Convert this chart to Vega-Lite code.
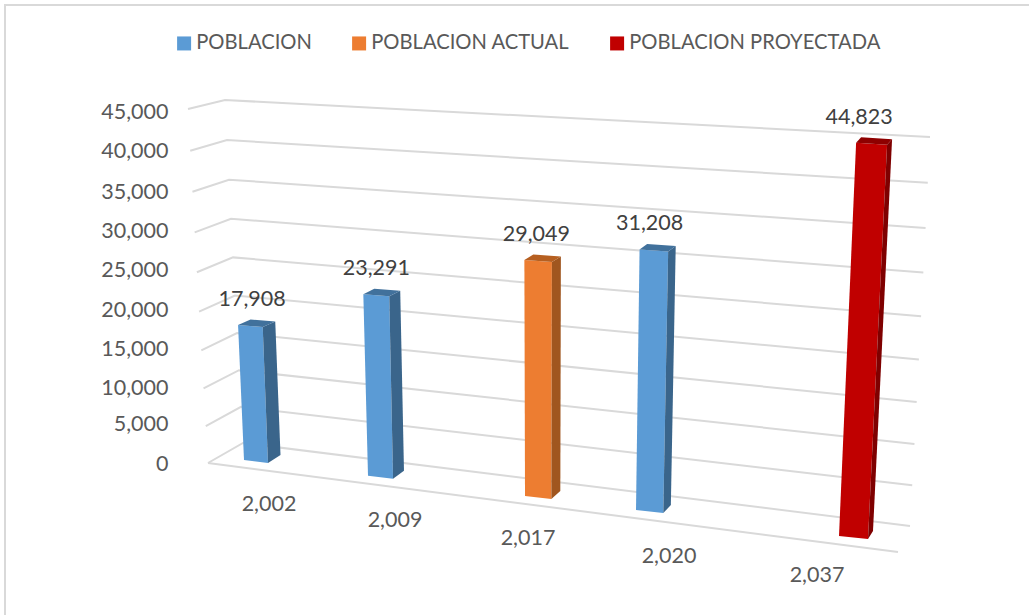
{
"$schema":"https://vega.github.io/schema/vega-lite/v6.json",
"width":1029,"height":615,"padding":0,"autosize":{"type":"none"},"background":"white",
"config":{"view":{"stroke":null},"font":"Lato"},
"datasets":{
"barras":[
{"anio":2002,"poblacion":17908,"serie":"POBLACION"},
{"anio":2009,"poblacion":23291,"serie":"POBLACION"},
{"anio":2017,"poblacion":29049,"serie":"POBLACION ACTUAL"},
{"anio":2020,"poblacion":31208,"serie":"POBLACION"},
{"anio":2037,"poblacion":44823,"serie":"POBLACION PROYECTADA"}],
"ejes":[{"tick":0},{"tick":5000},{"tick":10000},{"tick":15000},{"tick":20000},{"tick":25000},{"tick":30000},{"tick":35000},{"tick":40000},{"tick":45000}]
},
"encoding":{
"x":{"field":"X","type":"quantitative","scale":{"domain":[0,1029],"nice":false,"zero":false},"axis":null},
"y":{"field":"Y","type":"quantitative","scale":{"domain":[-19565,59079],"nice":false,"zero":false},
"axis":{"title":null,"values":[0,5000,10000,15000,20000,25000,30000,35000,40000,45000],"labelExpr":"format(datum.value,',')","grid":false,"domain":false,"ticks":false,"offset":-168,"labelPadding":0,"labelFontSize":21.5,"labelFont":"Lato","labelColor":"#595959",
"labelOffset":{"condition":[{"test":"datum.value>=10000 && datum.value<=35000","value":4.5}],"value":2}}}
},
"layer":[
{"data":{"values":[{"borde":"marco"}]},
"transform":[
{"calculate":"[5,5,1029]","as":"X"},
{"calculate":"[615,5,5]","as":"py"},
{"calculate":"[0,1,2]","as":"k"},
{"flatten":["X","py","k"]},
{"calculate":"(462-datum.py)/0.00782","as":"Y"}],
"mark":{"type":"line","color":"#D9D9D9","strokeWidth":2},
"encoding":{"order":{"field":"k","type":"quantitative"}}},
{"data":{"name":"ejes"},
"transform":[
{"calculate":"datum.tick/45000","as":"f"},
{"calculate":"datum.f*(1-datum.f)","as":"q"},
{"calculate":"[208-20*datum.f,243-18*datum.f,910+20*datum.f]","as":"px"},
{"calculate":"[463-354*datum.f+24*datum.q,443-343*datum.f+20*datum.q,526-389*datum.f+26*datum.q]","as":"py"},
{"calculate":"[0,1,2]","as":"k"},
{"flatten":["px","py","k"]},
{"calculate":"datum.px","as":"X"},
{"calculate":"(462-datum.py)/0.00782","as":"Y"}],
"mark":{"type":"line","color":"#D9D9D9","strokeWidth":2},
"encoding":{"detail":{"field":"tick"},"order":{"field":"k","type":"quantitative"}}},
{"data":{"name":"ejes"},
"transform":[{"filter":"datum.tick==0"},
{"calculate":"[208,898]","as":"px"},
{"calculate":"[463,552]","as":"py"},
{"calculate":"[0,1]","as":"k"},
{"flatten":["px","py","k"]},
{"calculate":"datum.px","as":"X"},
{"calculate":"(462-datum.py)/0.00782","as":"Y"}],
"mark":{"type":"line","color":"#D9D9D9","strokeWidth":2},
"encoding":{"order":{"field":"k","type":"quantitative"}}},
{"data":{"name":"barras"},
"transform":[
{"window":[{"op":"row_number","as":"n"}],"sort":[{"field":"anio","order":"ascending"}]},
{"calculate":"datum.n-1","as":"i"},
{"calculate":"[244,368,525,636,839][datum.i]","as":"xb"},
{"calculate":"460+0.1277*(datum.xb-244)","as":"yb"},
{"calculate":"datum.poblacion*(0.00754+(datum.xb-244)*0.00000207)","as":"h"},
{"calculate":"datum.yb-datum.h","as":"yt"},
{"calculate":"datum.xb+(datum.xb-543)*0.000147*datum.h","as":"xt"},
{"calculate":"24+(datum.xb-244)*0.0084","as":"w"},
{"calculate":"datum.w+datum.h*0.005","as":"wt"},
{"calculate":"12.5-(datum.xb-244)*0.0126","as":"dx"}
],
"layer":[
{"transform":[
{"calculate":"datum.xb+10","as":"X"},
{"calculate":"(462-(datum.yb-30))/0.00782","as":"Y"}],
"mark":{"type":"point","shape":"square","filled":true,"size":1,"opacity":1},
"encoding":{"color":{"field":"serie","type":"nominal",
"scale":{"domain":["POBLACION","POBLACION ACTUAL","POBLACION PROYECTADA"],"range":["#5B9BD5","#ED7D31","#C00000"]},
"legend":{"title":null,"orient":"none","legendX":174,"legendY":33,"direction":"horizontal","symbolType":"square","symbolSize":196,"symbolStrokeWidth":0,"labelFont":"Lato","labelFontSize":20.2,"labelColor":"#595959","labelLimit":400,"columnPadding":37,"labelOffset":2}}}},
{"transform":[
{"calculate":"[datum.xb,datum.xb+datum.w,datum.xt+datum.wt,datum.xt,datum.xb+datum.w,datum.xb+datum.w+datum.dx,datum.xt+datum.wt+datum.dx,datum.xt+datum.wt,datum.xt,datum.xt+datum.wt,datum.xt+datum.wt+datum.dx,datum.xt+datum.dx]","as":"px"},
{"calculate":"[datum.yb,datum.yb+3,datum.yt+2,datum.yt,datum.yb+3,datum.yb-5,datum.yt-3.5,datum.yt+2,datum.yt,datum.yt+2,datum.yt-3.5,datum.yt-5.5]","as":"py"},
{"calculate":"['frente','frente','frente','frente','lado','lado','lado','lado','tapa','tapa','tapa','tapa']","as":"cara"},
{"calculate":"[0,1,2,3,4,5,6,7,8,9,10,11]","as":"k"},
{"flatten":["px","py","cara","k"]},
{"calculate":"datum.px","as":"X"},
{"calculate":"(462-datum.py)/0.00782","as":"Y"},
{"calculate":"datum.serie+'|'+datum.cara","as":"c"},
{"calculate":"datum.anio+'|'+datum.cara","as":"g"}],
"mark":{"type":"line","strokeWidth":0,"interpolate":"linear"},
"encoding":{
"detail":{"field":"g"},
"order":{"field":"k","type":"quantitative"},
"fill":{"field":"c","type":"nominal","legend":null,"scale":{
"domain":["POBLACION|frente","POBLACION|lado","POBLACION|tapa","POBLACION ACTUAL|frente","POBLACION ACTUAL|lado","POBLACION ACTUAL|tapa","POBLACION PROYECTADA|frente","POBLACION PROYECTADA|lado","POBLACION PROYECTADA|tapa"],
"range":["#5B9BD5","#3A658B","#41719C","#ED7D31","#A0561F","#B65F20","#C00000","#7F0000","#8E0000"]}}}},
{"transform":[
{"calculate":"datum.xt+[14,13,12,10,3][datum.i]","as":"X"},
{"calculate":"(462-(datum.yt-25))/0.00782","as":"Y"}],
"mark":{"type":"text","font":"Lato","fontSize":21.5,"color":"#404040","align":"center","baseline":"middle"},
"encoding":{"text":{"field":"poblacion","type":"quantitative","format":","}}},
{"transform":[
{"calculate":"[269,395,528,669,817][datum.i]","as":"X"},
{"calculate":"(462-(505+0.13*(datum.X-269)))/0.00782","as":"Y"}],
"mark":{"type":"text","font":"Lato","fontSize":21.5,"color":"#595959","align":"center","baseline":"middle"},
"encoding":{"text":{"field":"anio","type":"quantitative","format":","}}}
]}
]
}
